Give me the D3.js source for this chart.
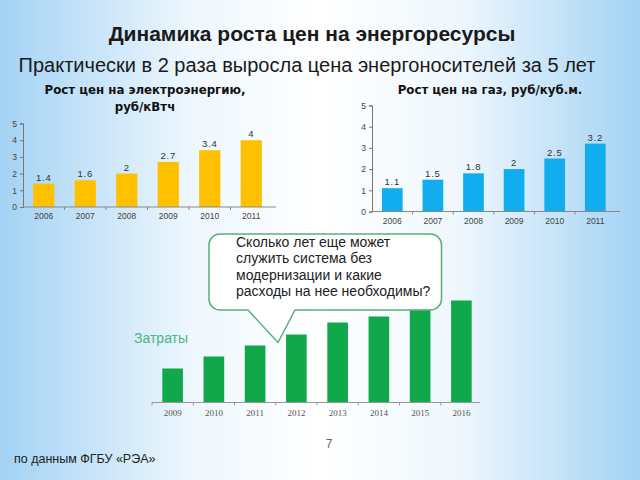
<!DOCTYPE html>
<html>
<head>
<meta charset="utf-8">
<script src="https://cdn.jsdelivr.net/npm/d3@7"></script>
<style>
  body { margin: 0; }
  svg { display: block; }
</style>
</head>
<body>
<svg width="640" height="480"></svg>
<script>
  // data
  const elecYears = ['2006', '2007', '2008', '2009', '2010', '2011'];
  const elecValues = [1.4, 1.6, 2, 2.7, 3.4, 4];

  const gasYears = ['2006', '2007', '2008', '2009', '2010', '2011'];
  const gasValues = [1.1, 1.5, 1.8, 2, 2.5, 3.2];

  // costs, no scale shown on the slide: relative heights only
  const costYears = ['2009', '2010', '2011', '2012', '2013', '2014', '2015', '2016'];
  const costValues = [34, 46, 57, 68, 80, 86, 95, 102];

  const yTicks = [0, 1, 2, 3, 4, 5];

  const bubbleLines = [
    'Сколько лет еще может',
    'служить система без',
    'модернизации и какие',
    'расходы на нее необходимы?'
  ];

  const svg = d3.select('svg');

  // background gradient, blue on the edges and white in the middle
  const defs = svg.append('defs');
  const bg = defs.append('linearGradient').attr('id', 'bg')
    .attr('x1', 0).attr('x2', 1).attr('y1', 0).attr('y2', 0);
  bg.append('stop').attr('offset', '0%').attr('stop-color', '#a3d2f4');
  bg.append('stop').attr('offset', '30%').attr('stop-color', '#eef7fd');
  bg.append('stop').attr('offset', '50%').attr('stop-color', '#ffffff');
  bg.append('stop').attr('offset', '72%').attr('stop-color', '#eef7fd');
  bg.append('stop').attr('offset', '100%').attr('stop-color', '#a3d2f4');

  svg.append('rect').attr('width', 640).attr('height', 480).attr('fill', 'url(#bg)');

  // titles
  svg.append('text')
    .attr('x', 312).attr('y', 41)
    .attr('text-anchor', 'middle')
    .style('font-family', 'Liberation Sans, Arial, sans-serif')
    .style('font-weight', 'bold')
    .style('font-size', '21px')
    .attr('fill', '#1a1a1a')
    .text('Динамика роста цен на энергоресурсы');

  svg.append('text')
    .attr('x', 307).attr('y', 72)
    .attr('text-anchor', 'middle')
    .style('font-family', 'Liberation Sans, Arial, sans-serif')
    .style('font-size', '20px')
    .attr('fill', '#1a1a1a')
    .text('Практически в 2 раза выросла цена энергоносителей за 5 лет');

  // small bar chart with y axis and value labels
  const priceChart = (selection, props) => {
    const { years, values, color, x0, step, yBottom, yTop, axisEnd, titleLines, titleX } = props;

    const x = d3.scaleBand()
      .domain(years)
      .range([x0, x0 + step * years.length])
      .paddingInner(0.49)
      .paddingOuter(0.245);

    const y = d3.scaleLinear().domain([0, 5]).range([yBottom, yTop]);

    // title
    selection.selectAll('.chartTitle').data(titleLines).enter()
      .append('text')
      .attr('class', 'chartTitle')
      .attr('x', titleX)
      .attr('y', (d, i) => 94 + i * 17)
      .attr('text-anchor', 'middle')
      .style('font-family', 'DejaVu Sans, sans-serif')
      .style('font-size', '11.8px')
      .style('font-weight', 'bold')
      .attr('fill', '#111')
      .text(d => d);

    // bars
    selection.selectAll('.bar').data(values).enter()
      .append('rect')
      .attr('class', 'bar')
      .attr('x', (d, i) => x(years[i]))
      .attr('y', d => y(d))
      .attr('width', x.bandwidth())
      .attr('height', d => yBottom - y(d))
      .attr('fill', color);

    // value labels
    selection.selectAll('.val').data(values).enter()
      .append('text')
      .attr('class', 'val')
      .attr('x', (d, i) => x(years[i]) + x.bandwidth() / 2)
      .attr('y', d => y(d) - 3)
      .attr('text-anchor', 'middle')
      .style('font-family', 'Liberation Sans, Arial, sans-serif')
      .style('font-size', '9.5px')
      .style('letter-spacing', '0.8px')
      .attr('fill', '#333')
      .text(d => d);

    // y axis
    const yAxis = d3.axisLeft(y).tickValues(yTicks).tickFormat(d3.format('d')).tickSize(3).tickPadding(3);
    const yG = selection.append('g')
      .attr('transform', `translate(${x0},0)`)
      .call(yAxis);
    yG.select('.domain').attr('stroke', '#777');
    yG.selectAll('.tick line').attr('stroke', '#777').attr('x2', 1).attr('x1', -3);
    yG.selectAll('.tick text')
      .style('font-family', 'Liberation Sans, Arial, sans-serif')
      .style('font-size', '8.5px')
      .attr('fill', '#444');

    // x axis line with ticks between the categories
    selection.append('line')
      .attr('x1', x0).attr('x2', axisEnd)
      .attr('y1', yBottom).attr('y2', yBottom)
      .attr('stroke', '#888');

    selection.selectAll('.xtick').data(years.slice(1)).enter()
      .append('line')
      .attr('class', 'xtick')
      .attr('x1', d => x(d) - x.step() * x.paddingInner() / 2)
      .attr('x2', d => x(d) - x.step() * x.paddingInner() / 2)
      .attr('y1', yBottom).attr('y2', yBottom + 3)
      .attr('stroke', '#888');

    selection.selectAll('.xlab').data(years).enter()
      .append('text')
      .attr('class', 'xlab')
      .attr('x', d => x(d) + x.bandwidth() / 2)
      .attr('y', yBottom + 12)
      .attr('text-anchor', 'middle')
      .style('font-family', 'Liberation Sans, Arial, sans-serif')
      .style('font-size', '8.5px')
      .attr('fill', '#444')
      .text(d => d);
  };

  svg.append('g').call(priceChart, {
    years: elecYears,
    values: elecValues,
    color: '#ffc000',
    x0: 23,
    step: 41.5,
    yBottom: 207,
    yTop: 123.5,
    axisEnd: 276,
    titleLines: ['Рост цен на электроэнергию,', 'руб/кВтч'],
    titleX: 145
  });

  svg.append('g').call(priceChart, {
    years: gasYears,
    values: gasValues,
    color: '#11adee',
    x0: 372,
    step: 40.6,
    yBottom: 211.5,
    yTop: 105.5,
    axisEnd: 620,
    titleLines: ['Рост цен на газ, руб/куб.м.'],
    titleX: 490
  });

  // costs chart, no y axis
  const costG = svg.append('g');
  const cx = d3.scaleBand()
    .domain(costYears)
    .range([152, 482])
    .paddingInner(0.5)
    .paddingOuter(0.25);
  const cBottom = 402.5;
  const cy = d3.scaleLinear().domain([0, 100]).range([cBottom, cBottom - 100]);

  costG.selectAll('rect').data(costValues).enter()
    .append('rect')
    .attr('x', (d, i) => cx(costYears[i]))
    .attr('y', d => cy(d))
    .attr('width', cx.bandwidth())
    .attr('height', d => cBottom - cy(d))
    .attr('fill', '#10a84a');

  costG.append('line')
    .attr('x1', 152).attr('x2', 480)
    .attr('y1', cBottom).attr('y2', cBottom)
    .attr('stroke', '#999');

  costG.selectAll('.ctick').data(costYears).enter()
    .append('line')
    .attr('class', 'ctick')
    .attr('x1', d => cx(d) - cx.step() * 0.25)
    .attr('x2', d => cx(d) - cx.step() * 0.25)
    .attr('y1', cBottom).attr('y2', cBottom + 3)
    .attr('stroke', '#999');

  costG.selectAll('.clab').data(costYears).enter()
    .append('text')
    .attr('class', 'clab')
    .attr('x', d => cx(d) + cx.bandwidth() / 2)
    .attr('y', cBottom + 13)
    .attr('text-anchor', 'middle')
    .style('font-family', 'Liberation Serif, serif')
    .style('font-size', '9px')
    .attr('fill', '#555')
    .text(d => d);

  svg.append('text')
    .attr('x', 134).attr('y', 343)
    .style('font-family', 'Liberation Sans, Arial, sans-serif')
    .style('font-size', '14px')
    .attr('fill', '#4cb58a')
    .text('Затраты');

  // speech bubble
  const bx0 = 209, bx1 = 441.5, by0 = 234, by1 = 310, r = 11;
  const bubblePath = d3.path();
  bubblePath.moveTo(bx0 + r, by0);
  bubblePath.lineTo(bx1 - r, by0);
  bubblePath.arcTo(bx1, by0, bx1, by0 + r, r);
  bubblePath.lineTo(bx1, by1 - r);
  bubblePath.arcTo(bx1, by1, bx1 - r, by1, r);
  bubblePath.lineTo(295, by1);
  bubblePath.lineTo(278, 342.5);
  bubblePath.lineTo(248, by1);
  bubblePath.lineTo(bx0 + r, by1);
  bubblePath.arcTo(bx0, by1, bx0, by1 - r, r);
  bubblePath.lineTo(bx0, by0 + r);
  bubblePath.arcTo(bx0, by0, bx0 + r, by0, r);
  bubblePath.closePath();

  svg.append('path')
    .attr('d', bubblePath.toString())
    .attr('fill', '#ffffff')
    .attr('stroke', '#5aae7c')
    .attr('stroke-width', 1.5);

  svg.selectAll('.bubbleText').data(bubbleLines).enter()
    .append('text')
    .attr('class', 'bubbleText')
    .attr('x', 236)
    .attr('y', (d, i) => 247 + i * 16.3)
    .style('font-family', 'Liberation Sans, Arial, sans-serif')
    .style('font-size', '14px')
    .attr('fill', '#222')
    .text(d => d);

  // footer
  svg.append('text')
    .attr('x', 14).attr('y', 463)
    .style('font-family', 'Liberation Sans, Arial, sans-serif')
    .style('font-size', '12.5px')
    .attr('fill', '#222')
    .text('по данным ФГБУ «РЭА»');

  svg.append('text')
    .attr('x', 329).attr('y', 448)
    .attr('text-anchor', 'middle')
    .style('font-family', 'Liberation Sans, Arial, sans-serif')
    .style('font-size', '12px')
    .attr('fill', '#666')
    .text('7');
</script>
</body>
</html>
